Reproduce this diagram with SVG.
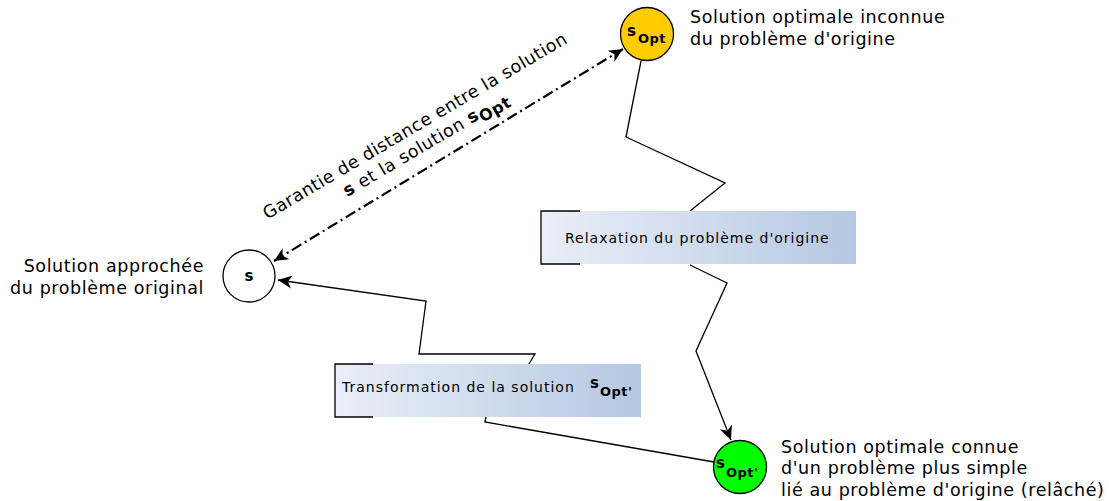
<svg xmlns="http://www.w3.org/2000/svg" width="1109" height="501" viewBox="0 0 1109 501">
<style>
text{font-family:"DejaVu Sans","Liberation Sans",sans-serif;fill:#000}
.lbl{font-size:17.5px;letter-spacing:0.6px}
.box{font-size:14px;letter-spacing:1px}
.b{font-weight:bold}
.sub{letter-spacing:0.5px}
.node{stroke:#000;stroke-width:1.3}
.conn{fill:none;stroke:#000;stroke-width:1.3}
.dash{fill:none;stroke:#000;stroke-width:2.2;stroke-dasharray:11,4,2,4}
.br{fill:none;stroke:#000;stroke-width:1.3}
</style>
<defs>
<linearGradient id="g" x1="0" y1="0" x2="1" y2="0">
<stop offset="0" stop-color="#eaeff8"/>
<stop offset="1" stop-color="#b5c7e2"/>
</linearGradient>
<marker id="ah" viewBox="-15 -8 17 16" refX="0" refY="0" markerWidth="17" markerHeight="16" markerUnits="userSpaceOnUse" orient="auto-start-reverse">
<path d="M0,0 L-14,-6.5 L-10,0 L-14,6.5 Z" fill="#000"/>
</marker>
</defs>
<g id="connectors">
<path class="conn" d="M641,61 L626,137 L725,183 L690,211"/>
<path class="conn" d="M690,265 L727,283 L696,351 L731,440" marker-end="url(#ah)"/>
<path class="conn" d="M714,462 L485,422 L486,417"/>
<path class="conn" d="M529,364 L535,354 L419,354 L426,301 L278,280" marker-end="url(#ah)"/>
<path class="dash" d="M274,261 L623,49" marker-start="url(#ah)" marker-end="url(#ah)"/>
</g>
<g id="node-sopt">
<circle class="node" cx="647" cy="34" r="26.5" fill="#ffcc00"/>
<text class="b" x="627" y="36" font-size="15">s</text>
<text class="b sub" x="638" y="43" font-size="13">Opt</text>
<text class="lbl" x="690" y="23">Solution optimale inconnue</text>
<text class="lbl" x="690" y="45">du problème d'origine</text>
</g>
<g id="node-s">
<circle class="node" cx="249" cy="276" r="26" fill="#fff"/>
<text class="b" x="249" y="281" font-size="15" text-anchor="middle">s</text>
<text class="lbl" x="204" y="272" text-anchor="end">Solution approchée</text>
<text class="lbl" x="204" y="294" text-anchor="end">du problème original</text>
</g>
<g id="node-soptp">
<circle class="node" cx="740" cy="467" r="26.5" fill="#00ff00"/>
<text class="b" x="716" y="468" font-size="15">s</text>
<text class="b sub" x="726" y="477" font-size="13">Opt'</text>
<text class="lbl" x="781" y="453">Solution optimale connue</text>
<text class="lbl" x="781" y="474">d'un problème plus simple</text>
<text class="lbl" x="781" y="496">lié au problème d'origine (relâché)</text>
</g>
<g id="node-relax">
<rect x="541" y="211" width="315" height="53" fill="url(#g)"/>
<path class="br" d="M580,211 H541 V264 H580"/>
<text class="box" x="565" y="243">Relaxation du problème d'origine</text>
</g>
<g id="node-transf">
<rect x="335" y="364" width="306" height="53" fill="url(#g)"/>
<path class="br" d="M373,364 H335 V417 H373"/>
<text class="box" x="342" y="392">Transformation de la solution</text>
<text class="b" x="590" y="388" font-size="15">s</text>
<text class="b sub" x="600" y="396" font-size="13">Opt'</text>
</g>
<g id="label-garantie" transform="translate(418,131) rotate(-30.5)">
<text class="lbl" x="0" y="0" text-anchor="middle" style="letter-spacing:0.5px">Garantie de distance entre la solution</text>
<text class="lbl" x="0" y="21" text-anchor="middle" style="letter-spacing:0.5px"><tspan class="b">s</tspan> et la solution <tspan class="b">s</tspan><tspan class="b" font-size="16" dy="5">Opt</tspan></text>
</g>
</svg>
